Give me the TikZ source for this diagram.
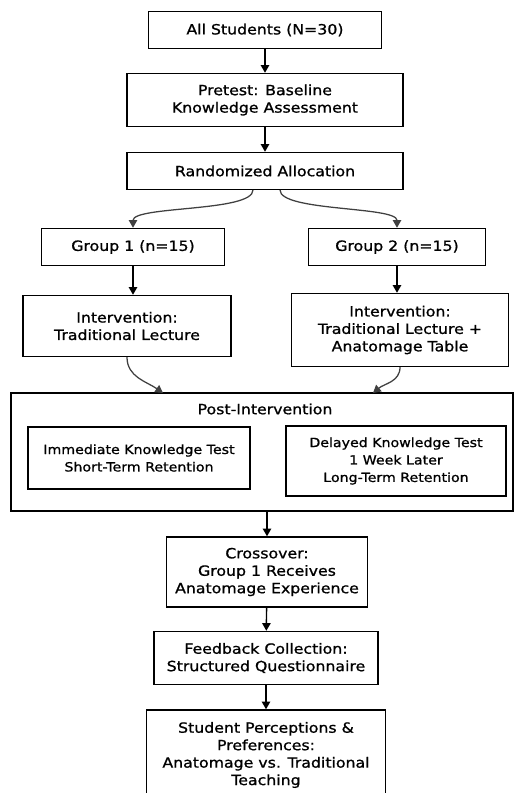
\documentclass[tikz,border=0pt]{standalone}
\usepackage{fontspec}
\setmainfont{DejaVu Sans}[FakeStretch=1.12, FakeBold=1]
\usetikzlibrary{arrows.meta}
\tikzset{
  box/.style={draw, line width=1pt, align=center, inner sep=2pt, font=\fontsize{10}{12.4}\selectfont},
  subbox/.style={box, font=\fontsize{9}{12.4}\selectfont},
  flow/.style={-{Triangle[width=6pt,length=5.5pt]}, line width=1pt},
  curvy/.style={flow, line width=0.9pt, draw=black!75}
}
\begin{document}
\begin{tikzpicture}[x=0.025cm, y=-0.025cm]
    \useasboundingbox (0,0) rectangle (515,793);
    \node[box, minimum width=5.825cm, minimum height=0.925cm] (all) at (265,30) {All Students (N=30)};
    \node[box, minimum width=6.9cm, minimum height=1.325cm] (pre) at (265,100) {Pretest: Baseline\\Knowledge Assessment};
    \node[box, minimum width=6.9cm, minimum height=0.925cm] (alloc) at (265,171) {Randomized Allocation};
    \node[box, minimum width=4.575cm, minimum height=0.925cm] (g1) at (133,247) {Group 1 (n=15)};
    \node[box, minimum width=4.425cm, minimum height=0.925cm] (g2) at (397,247) {Group 2 (n=15)};
    \node[box, minimum width=5.2cm, minimum height=1.525cm] (int1) at (127,326) {Intervention:\\Traditional Lecture};
    \node[box, minimum width=5.425cm, minimum height=1.825cm] (int2) at (400,330) {Intervention:\\Traditional Lecture +\\Anatomage Table};
    % post-intervention block
    \node[draw, line width=1pt, minimum width=12.55cm, minimum height=2.95cm] (post) at (262,452) {};
    \node[font=\fontsize{10}{12.4}\selectfont] (ptitle) at (265,409) {Post-Intervention};
    \node[subbox, minimum width=5.55cm, minimum height=1.55cm] (imm) at (139,458) {Immediate Knowledge Test\\Short-Term Retention};
    \node[subbox, minimum width=5.5cm, minimum height=1.75cm] (del) at (396,461) {Delayed Knowledge Test\\1 Week Later\\Long-Term Retention};
    \node[box, minimum width=5.025cm, minimum height=1.75cm] (cross) at (267,572) {Crossover:\\Group 1 Receives\\Anatomage Experience};
    \node[box, minimum width=5.6cm, minimum height=1.325cm] (feed) at (266,658) {Feedback Collection:\\Structured Questionnaire};
    \node[box, minimum width=5.975cm, minimum height=2.25cm] (stud) at (266,755) {Student Perceptions \&\\Preferences:\\Anatomage vs. Traditional\\Teaching};
    % curve ends
    \coordinate (a1) at (253,190);
    \coordinate (a2) at (280,190);
    \coordinate (p1) at (163,393);
    \coordinate (p2) at (373,393);
    \draw[flow] (all) -- (pre);
    \draw[flow] (pre) -- (alloc);
    \draw[curvy] (a1) to[out=-90, in=90, looseness=0.45] (g1.north);
    \draw[curvy] (a2) to[out=-90, in=90, looseness=0.45] (g2.north);
    \draw[flow] (g1.south) -- (g1.south |- int1.north);
    \draw[flow] (g2.south) -- (g2.south |- int2.north);
    \draw[curvy] (int1.south) to[out=-90, in=145] (p1);
    \draw[curvy] (int2.south) to[out=-90, in=40] (p2);
    \draw[flow] (post.south -| cross.north) -- (cross.north);
    \draw[flow] (cross) -- (feed);
    \draw[flow] (feed) -- (stud);
\end{tikzpicture}
\end{document}
